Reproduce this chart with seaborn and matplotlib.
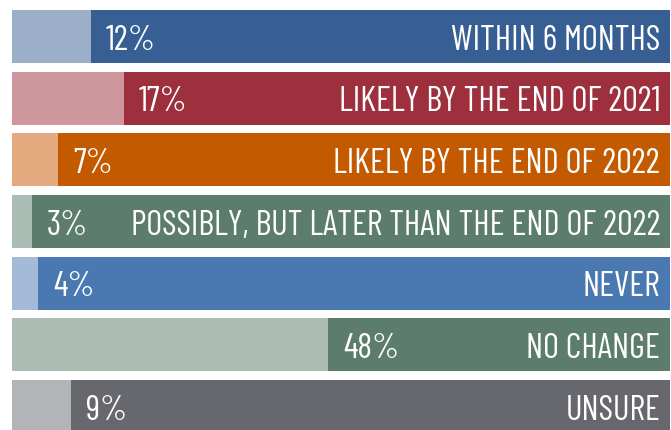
import pandas as pd
import matplotlib
matplotlib.use('Agg')
import matplotlib.pyplot as plt
import seaborn as sns

sns.set_theme(style="white")
plt.rcParams['font.family'] = ['Barlow Condensed', 'DejaVu Sans']

# Data
answers = ['WITHIN 6 MONTHS', 'LIKELY BY THE END OF 2021', 'LIKELY BY THE END OF 2022',
           'POSSIBLY, BUT LATER THAN THE END OF 2022', 'NEVER', 'NO CHANGE', 'UNSURE']
shares = [12, 17, 7, 3, 4, 48, 9]
dark_colors = ['#375F94', '#9E303D', '#C35A00', '#5C7C6E', '#4A78B0', '#5C7C6E', '#67686E']
light_colors = ['#9BAFC9', '#CE969D', '#E3AA80', '#AABDB5', '#A5BAD6', '#ABBDB5', '#B3B4B8']

df = pd.DataFrame({'answer': answers, 'share': shares, 'total': [100] * len(answers)})

W, H = 671, 431
fig = plt.figure(figsize=(W / 100, H / 100), dpi=100)
# axes stretched so the bars sit where they do in the reference
top_px, bot_px = 6.7, 438.4
ax = fig.add_axes([12 / W, 1 - bot_px / H, 658 / W, (bot_px - top_px) / H])

sns.barplot(data=df, x='total', y='answer', hue='answer', palette=dark_colors,
            orient='h', width=0.862, legend=False, ax=ax, saturation=1, linewidth=0)
sns.barplot(data=df, x='share', y='answer', hue='answer', palette=light_colors,
            orient='h', width=0.862, legend=False, ax=ax, saturation=1, linewidth=0)

for i, (lab, v) in enumerate(zip(answers, shares)):
    ax.text(v + 2.3, i + 0.05, f'{v}%', color='white', fontsize=25, va='center', ha='left')
    ax.text(98.5, i + 0.05, lab, color='white', fontsize=25, va='center', ha='right')

ax.set_xlim(0, 100)
ax.set_ylim(len(answers) - 0.5, -0.5)
ax.axis('off')

fig.savefig('out.png', dpi=100)
